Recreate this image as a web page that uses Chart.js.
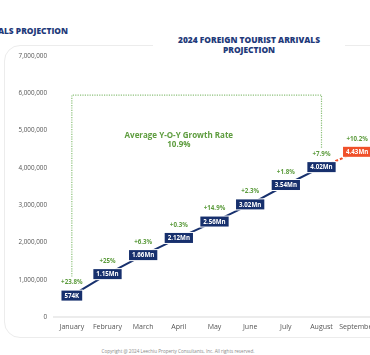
<!DOCTYPE html>
<html><head><meta charset="utf-8">
<script src="https://cdn.jsdelivr.net/npm/chart.js@4"></script>
<style>
html,body{margin:0;padding:0;width:370px;height:355px;overflow:hidden;background:#fff;font-family:'Open Sans',sans-serif;}
#card{position:absolute;left:4px;top:45px;width:430px;height:293px;border:1.5px solid #ececec;border-radius:16px;box-sizing:border-box;}
#cut{position:absolute;right:302px;top:26px;font-weight:800;font-size:8.4px;line-height:10px;color:#1f3a7a;white-space:nowrap;text-align:right;}
#title{position:absolute;left:153px;top:32px;width:192px;background:#fff;text-align:center;font-weight:800;font-size:8.4px;line-height:10px;padding:3px 0;color:#1f3a7a;z-index:3;}
#copy{position:absolute;left:0;top:348px;width:356px;text-align:center;font-size:4.6px;line-height:6px;color:#8a8a8a;white-space:nowrap;}
#c{position:absolute;left:0;top:0;z-index:2;}
</style></head>
<body>
<div id="card"></div>
<div id="cut">2024 FOREIGN TOURIST ARRIVALS PROJECTION</div>
<canvas id="c" width="400" height="355"></canvas>
<div id="title">2024 FOREIGN TOURIST ARRIVALS<br>PROJECTION</div>
<div id="copy">Copyright @ 2024 Leechiu Property Consultants, Inc. All rights reserved.</div>
<script>
const months = ['January','February','March','April','May','June','July','August','September'];
const arrivals = [574000, 1150000, 1660000, 2120000, 2560000, 3020000, 3540000, 4020000, 4430000];
const valueLabels = ['574K','1.15Mn','1.66Mn','2.12Mn','2.56Mn','3.02Mn','3.54Mn','4.02Mn','4.43Mn'];
const growthLabels = ['+23.8%','+25%','+6.3%','+0.3%','+14.9%','+2.3%','+1.8%','+7.9%','+10.2%'];
const avgLabel = ['Average Y-O-Y Growth Rate','10.9%'];
const yMax = 7000000, yStep = 1000000;

const NAVY = '#17306d', ORANGE = '#f0502a', GREEN = '#5d9c3e';
const last = months.length - 1;

const labelPlugin = {
  id: 'labels',
  beforeDatasetsDraw(chart) {
    const ctx = chart.ctx, xs = chart.scales.x, ys = chart.scales.y;
    const meta = chart.getDatasetMeta(0);
    const x0 = meta.data[0].x, x1 = meta.data[7].x;
    const yTop = ys.getPixelForValue(5950000);
    ctx.save();
    ctx.strokeStyle = '#8cc07a';
    ctx.lineWidth = 1.2;
    ctx.setLineDash([1.2, 1.2]);
    ctx.beginPath();
    ctx.moveTo(x0, meta.data[0].y - 19);
    ctx.lineTo(x0, yTop);
    ctx.lineTo(x1, yTop);
    ctx.lineTo(x1, meta.data[7].y - 19);
    ctx.stroke();
    ctx.setLineDash([]);
    ctx.fillStyle = GREEN;
    ctx.font = '700 8px "Open Sans"';
    ctx.textAlign = 'center';
    ctx.textBaseline = 'middle';
    const ax = xs.getPixelForValue(3);
    ctx.fillText(avgLabel[0], ax, yTop + 41);
    ctx.fillText(avgLabel[1], ax, yTop + 50);
    ctx.restore();
  },
  afterDatasetsDraw(chart) {
    const ctx = chart.ctx;
    const meta = chart.getDatasetMeta(0);
    ctx.save();
    ctx.textAlign = 'center';
    ctx.textBaseline = 'middle';
    meta.data.forEach((pt, i) => {
      const x = pt.x, y = pt.y;
      ctx.font = '700 6.2px "Open Sans"';
      const t = valueLabels[i];
      const w = ctx.measureText(t).width + 6, h = 10;
      ctx.fillStyle = '#fff';
      ctx.fillRect(x - w/2 - 1, y - h/2 - 1, w + 2, h + 2);
      ctx.fillStyle = i === last ? ORANGE : NAVY;
      ctx.fillRect(x - w/2, y - h/2, w, h);
      ctx.fillStyle = '#fff';
      ctx.fillText(t, x, y + 0.5);
      ctx.fillStyle = GREEN;
      ctx.font = '700 6.2px "Open Sans"';
      ctx.fillText(growthLabels[i], x, y - 13);
    });
    ctx.restore();
  }
};

new Chart(document.getElementById('c'), {
  type: 'line',
  data: {
    labels: months,
    datasets: [{
      data: arrivals,
      borderColor: NAVY,
      borderWidth: 2,
      pointRadius: 0,
      tension: 0,
      fill: false,
      segment: {
        borderColor: c => c.p1DataIndex === last ? ORANGE : NAVY,
        borderDash: c => c.p1DataIndex === last ? [3, 2] : undefined
      }
    }]
  },
  options: {
    responsive: false,
    animation: false,
    devicePixelRatio: 1,
    layout: { padding: { top: 56, bottom: 18, left: 0, right: 25 } },
    plugins: { legend: { display: false }, tooltip: { enabled: false } },
    scales: {
      x: {
        type: 'category',
        offset: true,
        grid: { display: false, drawTicks: false },
        border: { display: true, color: '#ececec', width: 2 },
        ticks: { font: { family: 'Open Sans', size: 7 }, color: '#555', padding: 6, maxRotation: 0, autoSkip: false },
        afterFit(s) { s.height = 20; }
      },
      y: {
        min: 0, max: yMax,
        grid: { display: false, drawTicks: false },
        border: { display: false },
        ticks: { stepSize: yStep, font: { family: 'Open Sans', size: 6.3 }, color: '#555', padding: 7,
          callback: v => v.toLocaleString('en-US') },
        afterFit(s) { s.width = 54; }
      }
    }
  },
  plugins: [labelPlugin]
});
</script>
</body></html>
